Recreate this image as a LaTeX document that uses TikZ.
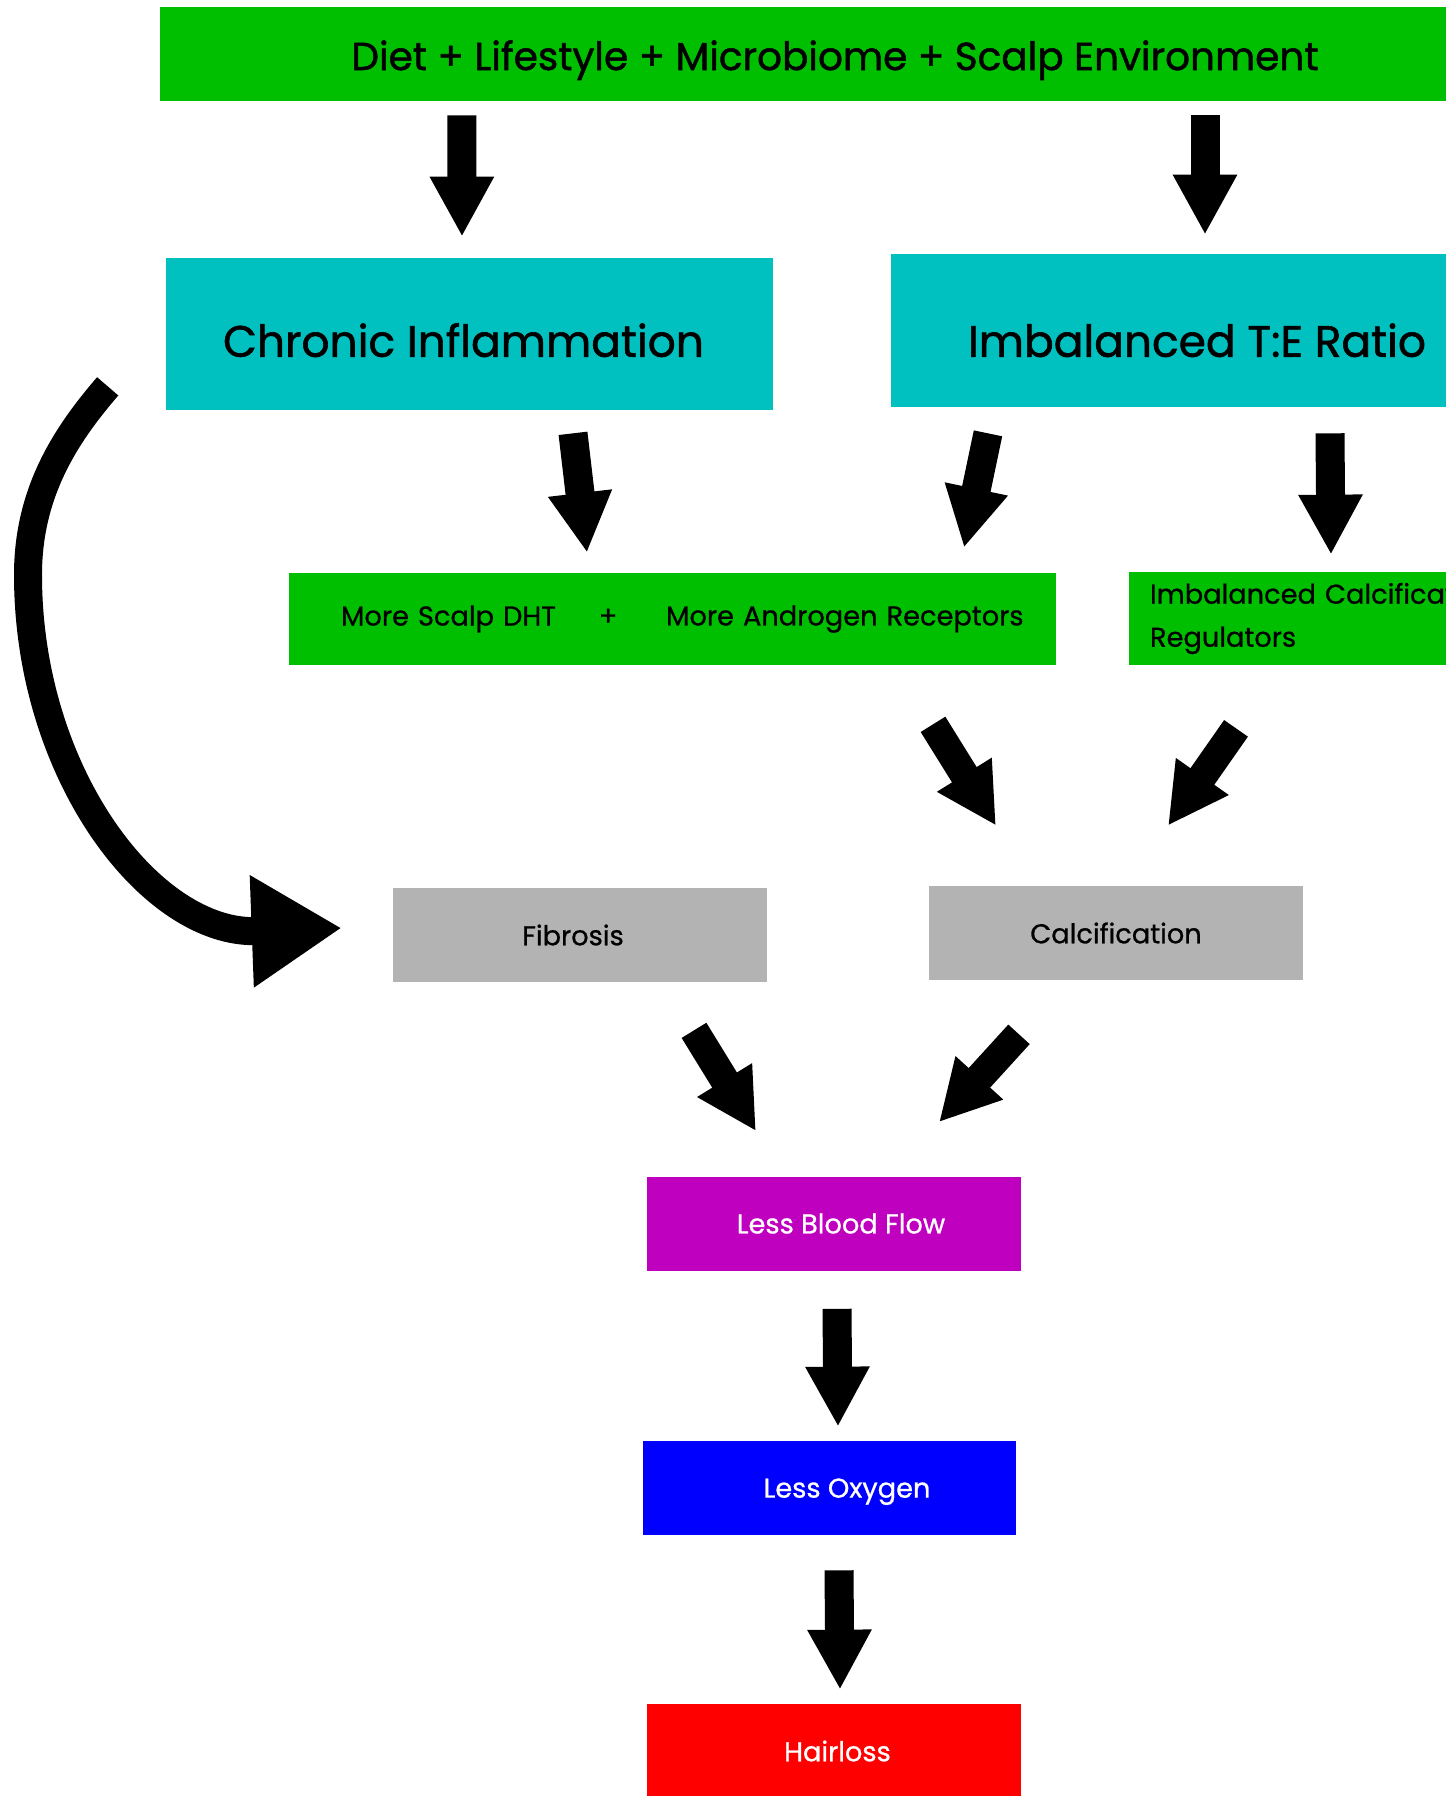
\documentclass[tikz,border=0pt]{standalone}
\usepackage{fontspec}
\setmainfont{Poppins}[FakeBold=0.8]
\newfontfamily\headfont{Poppins}[FakeBold=1.3]
\usetikzlibrary{arrows.meta}
\usetikzlibrary{calc}
\definecolor{boxgreen}{RGB}{0,191,0}
\definecolor{boxteal}{RGB}{0,192,192}
\definecolor{boxgrey}{RGB}{179,179,179}
\definecolor{boxmagenta}{RGB}{191,0,191}
\definecolor{boxblue}{RGB}{0,0,255}
\definecolor{boxred}{RGB}{255,0,0}

\begin{document}
\begin{tikzpicture}[x=0.02cm, y=-0.02cm,
    box/.style={inner sep=0pt, minimum height=1.88cm, minimum width=7.48cm,
      font=\fontsize{15.5}{24.5}\selectfont},
    big/.style={font=\headfont\fontsize{25}{25}\selectfont, text depth=0pt},
    fat/.style={line width=0.58cm, -{Triangle[length=1.2cm, width=1.2cm]}},
    curvy/.style={line width=0.56cm, -{Triangle[length=1.8cm, width=2.12cm]}}]

    \useasboundingbox (0,0) rectangle (1446,1796);

    \node [box, fill=boxgreen, minimum width=27cm, text height=0.64cm, text depth=0pt,
      font=\headfont\fontsize{22.2}{22.2}\selectfont]
    (top) at (835,54) {Diet + Lifestyle + Microbiome + Scalp Environment};

    \node [box, big, fill=boxteal, minimum width=12.14cm, minimum height=3.04cm,
      text height=0.91cm]
    (chronic) at (469.5,334) {Chronic Inflammation\hspace*{0.24cm}};
    \node [box, big, fill=boxteal, minimum width=12.24cm, minimum height=3.06cm,
      text height=1.05cm]
    (ratio) at (1197,330.5) {Imbalanced T:E Ratio};

    \node [box, fill=boxgreen, minimum height=1.84cm, text width=5.38cm,
      inner xsep=1.04cm, align=left]
    (dht) at (475.5,619) {More Scalp DHT\hfill+\kern-0.15cm};
    \node [box, fill=boxgreen, minimum height=1.84cm, text width=7.72cm,
      inner xsep=0.08cm, align=left]
    (andro) at (859,619) {More Androgen Receptors};
    \node [box, fill=boxgreen, minimum height=1.86cm, text width=7.04cm,
      inner xsep=0.42cm, align=left]
    (reg) at (1326,618.5) {Imbalanced Calcification\\Regulators};

    \node [box, fill=boxgrey] (fib) at (580,935) {Fibrosis\hspace*{0.28cm}};
    \node [box, fill=boxgrey] (calc) at (1116,933) {Calcification};

    \node [box, fill=boxmagenta, text=white] (blood) at (834,1223.5)
    {\hspace*{0.28cm}Less Blood Flow};
    \node [box, fill=boxblue, text=white, text depth=0pt] (oxy) at (829.5,1488)
    {\hspace*{0.7cm}Less Oxygen};
    \node [box, fill=boxred, text=white] (hair) at (834,1751)
    {\hspace*{0.14cm}Hairloss};

    % top row
    \draw [fat] ($(top.south west)+(302,14)$) -- ($(chronic.north)+(-7.5,-21)$);
    \draw [fat] ($(top.south)+(370,14)$) -- ($(ratio.north)+(8,-19)$);

    % into the green row
    \draw [fat] ($(chronic.south)+(103.5,23)$) -- ($(dht.north)+(111.5,-20)$);
    \draw [fat] ($(ratio.south)+(-209,26)$) -- ($(andro.north)+(105,-25)$);
    \draw [fat] ($(ratio.south)+(133,26)$) -- ($(reg.north)+(5,-17)$);

    % into calcification
    \draw [fat] ($(andro.south)+(74,59)$) -- ($(calc.north)+(-120,-60)$);
    \draw [fat] ($(reg.south)+(-90,63)$) -- ($(calc.north)+(52,-60)$);

    % down to hairloss
    \draw [fat] ($(fib.south)+(114,48)$) -- ($(blood.north)+(-78,-45)$);
    \draw [fat] ($(calc.south)+(-97,54)$) -- ($(blood.north)+(105,-54)$);
    \draw [fat] ($(blood.south)+(3,38)$) -- ($(oxy.north)+(8.5,-14)$);
    \draw [fat] ($(oxy.south)+(9.5,35)$) -- ($(hair.north)+(6,-14)$);

    % the long way round
    \coordinate (loopstart) at ($(chronic.south west)+(-58,-24)$);
    \draw [curvy] (loopstart) .. controls (63,438) and (28,495) .. (28,575)
    .. controls (28,775) and (152,935) .. ($(fib.west)+(-51,-7)$);

\end{tikzpicture}
\end{document}
